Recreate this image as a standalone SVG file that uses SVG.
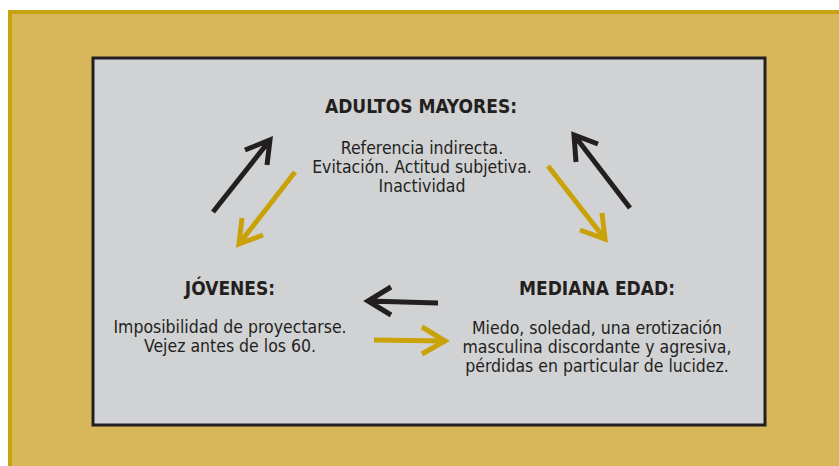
<svg xmlns="http://www.w3.org/2000/svg" width="839" height="466" viewBox="0 0 839 466">
<defs>
<style>
.t{font-family:"DejaVu Sans Condensed","DejaVu Sans",sans-serif;font-stretch:condensed;fill:#231F20;text-anchor:middle}
.h{font-size:19px;font-weight:bold}
.b{font-size:17.5px}
.k{fill:none;stroke:#231F20;stroke-width:5}
.g{fill:none;stroke:#C9A208;stroke-width:5}
</style>
</defs>
<rect x="0" y="0" width="839" height="466" fill="#FFFFFF"/>
<rect x="10" y="12" width="840" height="470" fill="#D8B75A" stroke="#C6A30F" stroke-width="4"/>
<rect x="93" y="58" width="672" height="367" fill="#D1D2D4" stroke="#231F20" stroke-width="3"/>
<g id="connectors">
<path class="k" d="M213,212 L270,140 M245,150 L270,140 L267,165"/>
<path class="g" d="M295,172 L239,244 M242,218 L239,244 L263,235"/>
<path class="k" d="M630,208 L574,135 M576,162 L574,135 L598,144"/>
<path class="g" d="M548,166 L605,239 M602,213 L605,239 L580,230"/>
<path class="k" d="M438,303 L368,301 M391,287 L368,301 L391,315"/>
<path class="g" d="M374,340 L445,341 M422,327 L445,341 L422,354"/>
</g>
<g id="adultos">
<text class="t h" x="421" y="113">ADULTOS MAYORES:</text>
<text class="t b" x="422" y="154">Referencia indirecta.</text>
<text class="t b" x="422" y="173">Evitación. Actitud subjetiva.</text>
<text class="t b" x="422" y="192">Inactividad</text>
</g>
<g id="jovenes">
<text class="t h" x="230" y="295">JÓVENES:</text>
<text class="t b" x="230" y="333">Imposibilidad de proyectarse.</text>
<text class="t b" x="230" y="352">Vejez antes de los 60.</text>
</g>
<g id="mediana">
<text class="t h" x="597" y="295">MEDIANA EDAD:</text>
<text class="t b" x="597" y="334">Miedo, soledad, una erotización</text>
<text class="t b" x="597" y="353">masculina discordante y agresiva,</text>
<text class="t b" x="597" y="372">pérdidas en particular de lucidez.</text>
</g>
</svg>
